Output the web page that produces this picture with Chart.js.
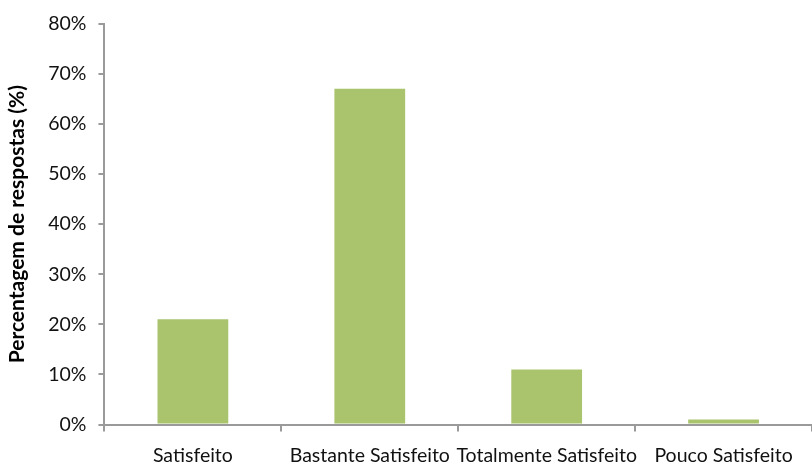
<!DOCTYPE html>
<html>
<head>
<meta charset="utf-8">
<script src="https://cdn.jsdelivr.net/npm/chart.js@4"></script>
<style>
  html, body { margin: 0; padding: 0; background: #fff; }
  #wrap { width: 812px; height: 466px; }
</style>
</head>
<body>
<div id="wrap"><canvas id="myChart"></canvas></div>
<script>
const categories = ["Satisfeito", "Bastante Satisfeito", "Totalmente Satisfeito", "Pouco Satisfeito"];
const percentages = [21, 67, 11, 1];
const yTicks = [0, 10, 20, 30, 40, 50, 60, 70, 80];

const axisGrey = "#9a9a9a";
const fontFamily = "Lato, 'Open Sans', sans-serif";

const config = {
  type: "bar",
  data: {
    labels: categories,
    datasets: [
      {
        label: "Percentagem",
        data: percentages,
        backgroundColor: "#a9c46c",
        borderWidth: 0,
        barPercentage: 0.4,
        categoryPercentage: 1,
      },
    ],
  },
  options: {
    responsive: true,
    maintainAspectRatio: false,
    animation: false,
    layout: { padding: { top: 5, right: 0, bottom: -13, left: 5 } },
    plugins: {
      legend: { display: false },
      tooltip: { enabled: false },
    },
    scales: {
      x: {
        grid: {
          offset: true,
          drawOnChartArea: false,
          drawTicks: true,
          tickLength: 7,
          color: axisGrey,
          lineWidth: 2,
        },
        border: { color: axisGrey, width: 2 },
        ticks: {
          color: "#111",
          font: { family: fontFamily, size: 19.5 },
          padding: 12,
          maxRotation: 0,
          autoSkip: false,
        },
      },
      y: {
        min: 0,
        max: 80,
        afterBuildTicks: (axis) => {
          axis.ticks = yTicks.map((v) => ({ value: v }));
        },
        grid: {
          drawOnChartArea: false,
          drawTicks: true,
          tickLength: 6,
          color: axisGrey,
          lineWidth: 2,
        },
        border: { color: axisGrey, width: 2 },
        ticks: {
          color: "#111",
          font: { family: fontFamily, size: 19.5 },
          padding: 12,
          callback: (v) => v + "%",
        },
        title: {
          display: true,
          text: "Percentagem de respostas (%)",
          color: "#000",
          font: { family: fontFamily, size: 21, weight: "bold" },
          padding: { top: 0, bottom: 6 },
        },
      },
    },
  },
};

const myChart = new Chart(document.getElementById("myChart"), config);
</script>
</body>
</html>
